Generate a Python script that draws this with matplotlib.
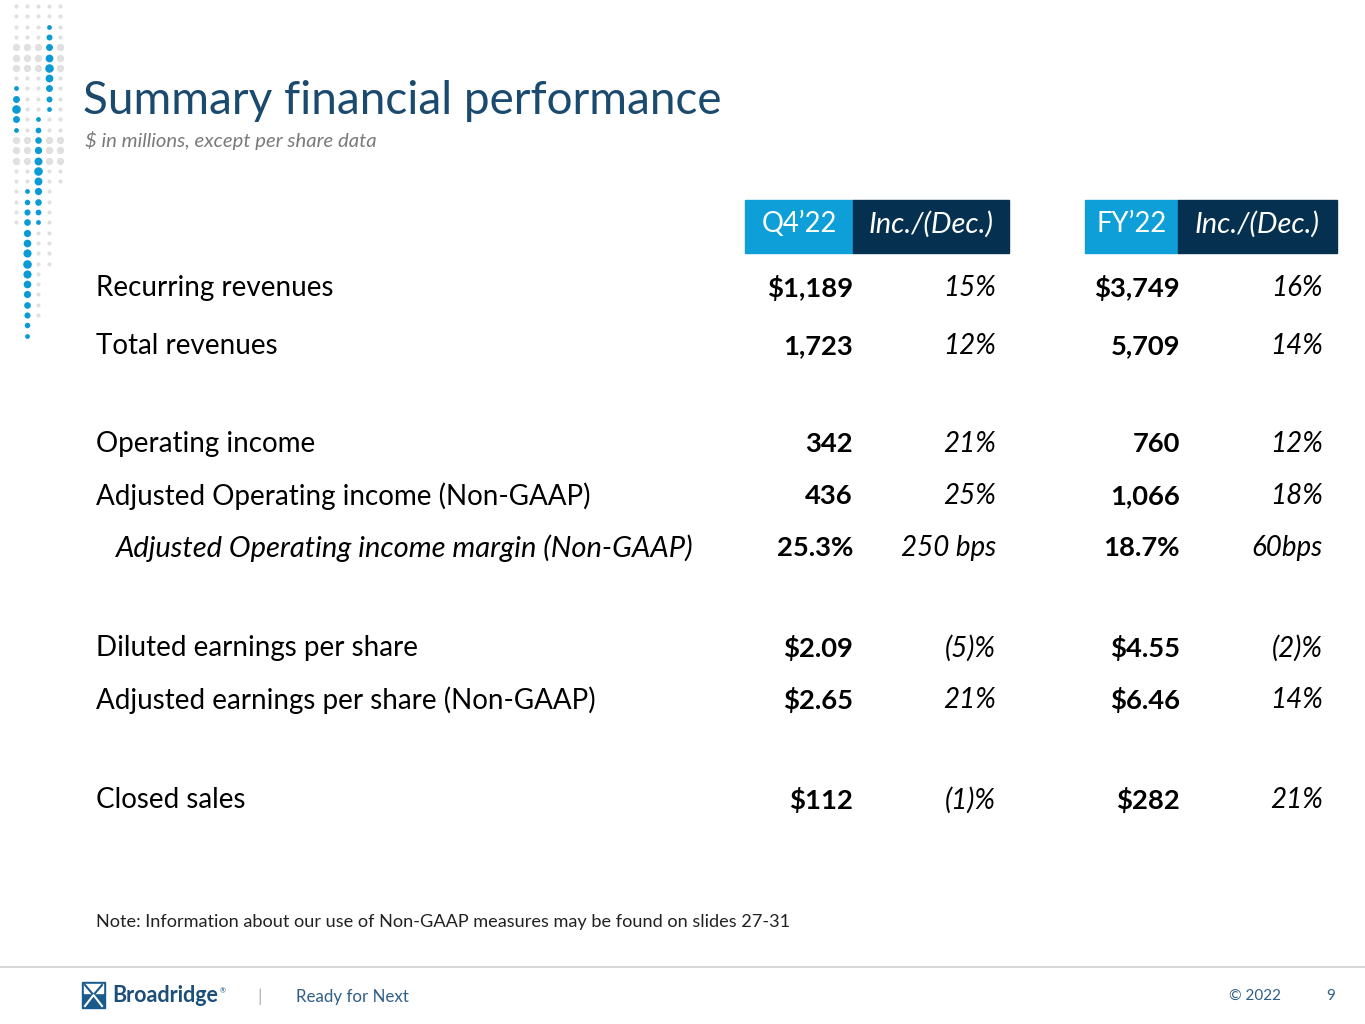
import matplotlib.pyplot as plt
import matplotlib.patches as mpatches
import numpy as np

# table contents
row_labels = ['Recurring revenues', 'Total revenues', 'Operating income',
              'Adjusted Operating income (Non-GAAP)',
              'Adjusted Operating income margin (Non-GAAP)',
              'Diluted earnings per share', 'Adjusted earnings per share (Non-GAAP)',
              'Closed sales']
q4_values = ['$1,189', '1,723', '342', '436', '25.3%', '$2.09', '$2.65', '$112']
q4_change = ['15%', '12%', '21%', '25%', '250 bps', '(5)%', '21%', '(1)%']
fy_values = ['$3,749', '5,709', '760', '1,066', '18.7%', '$4.55', '$6.46', '$282']
fy_change = ['16%', '14%', '12%', '18%', '60bps', '(2)%', '14%', '21%']
headers = ['Q4\u201922', 'Inc./(Dec.)', 'FY\u201922', 'Inc./(Dec.)']

# layout (pixels)
row_y = [288, 346, 444, 496, 548, 648, 700, 800]
sub_row = 4  # indented italic row

FONT = 'Lato'
LIGHT = '#0e9fd8'
NAVY = '#05304f'
TITLE = '#1a4a6e'

fig = plt.figure(figsize=(13.65, 10.24), dpi=100)
ax = fig.add_axes([0, 0, 1, 1])
ax.set_xlim(0, 1365)
ax.set_ylim(1024, 0)
ax.axis('off')

# decorative dot column
dot_cols = [16, 27, 38, 49, 60]
grey_ranges = {16: (0, 21), 27: (0, 17), 38: (0, 30), 49: (0, 25), 60: (0, 17)}
blue_ranges = {16: (8, 12), 27: (18, 32), 38: (11, 21), 49: (2, 10)}
for cx in dot_cols:
    g0, g1 = grey_ranges[cx]
    b = blue_ranges.get(cx)
    for r in range(0, 33):
        y = 6 + r * 10.3
        if b and b[0] <= r <= b[1]:
            mid = (b[0] + b[1]) / 2
            s = 38 - 26 * abs(r - mid) / max(1, (b[1] - b[0]) / 2)
            ax.scatter(cx, y, s=max(s, 10), color='#0a9bd6', linewidths=0, zorder=3)
        elif g0 <= r <= g1:
            big = (4 <= r <= 6 or 13 <= r <= 15) and r > 2
            s = 28 if big else 9
            ax.scatter(cx, y, s=s, color='#e0e0e0', linewidths=0, zorder=2)

# title
ax.text(83, 101, 'Summary financial performance', fontsize=33, color=TITLE,
        family=FONT, va='center', ha='left')
ax.text(85, 141, '$ in millions, except per share data', fontsize=14.6,
        color='#7a7a7a', style='italic', family=FONT, va='center', ha='left')

# header boxes
boxes = [(745, 853, LIGHT), (853, 1009, NAVY), (1085, 1178, LIGHT), (1178, 1337, NAVY)]
for (x0, x1, c), h in zip(boxes, headers):
    ax.add_patch(mpatches.Rectangle((x0, 200), x1 - x0, 53, color=c, zorder=1))
    italic = h.startswith('Inc')
    ax.text((x0 + x1) / 2, 224, h, color='white', fontsize=21 if italic else 19.8,
            style='italic' if italic else 'normal',
            family=FONT, ha='center', va='center')

# table rows
for i, lab in enumerate(row_labels):
    y = row_y[i]
    if i == sub_row:
        ax.text(116, y, lab, fontsize=21, style='italic', family=FONT,
                va='center', ha='left', color='black')
    else:
        ax.text(96, y, lab, fontsize=20, family=FONT, va='center', ha='left',
                color='black')
    ax.text(853, y, q4_values[i], fontsize=19.7, weight='bold', family=FONT,
            va='center', ha='right')
    ax.text(996, y, q4_change[i], fontsize=20, style='italic', family=FONT,
            va='center', ha='right')
    ax.text(1180, y, fy_values[i], fontsize=19.7, weight='bold', family=FONT,
            va='center', ha='right')
    ax.text(1323, y, fy_change[i], fontsize=20, style='italic', family=FONT,
            va='center', ha='right')

ax.text(96, 922, 'Note: Information about our use of Non-GAAP measures may be found on slides 27-31',
        fontsize=13.1, family=FONT, va='center', ha='left', color='#222222')

# footer
ax.plot([0, 1365], [967, 967], color='#d0d0d0', lw=1.2)
ax.add_patch(mpatches.Rectangle((82, 982), 23, 26, color='#1b5a8c', zorder=2))
ax.add_patch(mpatches.Rectangle((84, 984), 19, 9, color='white', zorder=3))
ax.plot([85, 93.5, 102], [985, 995, 985], color='#1b5a8c', lw=1.5, zorder=4)
ax.plot([85, 93.5, 102], [1006, 995, 1006], color='white', lw=1.5, zorder=4)
ax.text(112, 996, 'Broadridge', fontsize=15.5, weight='bold', color='#1b4f7a',
        family=FONT, va='center', ha='left')
ax.text(220, 991, '\u00ae', fontsize=5, color='#1b4f7a', family=FONT, va='center')
ax.text(260, 997, '|', fontsize=13, color='#b0b0b0', family=FONT, va='center', ha='center')
ax.text(296, 997, 'Ready for Next', fontsize=12.2, color='#2f5f87', family=FONT,
        va='center', ha='left')
ax.text(1255, 996, '\u00a9 2022', fontsize=11, color='#2f5f87', family=FONT,
        va='center', ha='center')
ax.text(1331, 996, '9', fontsize=11, color='#2f5f87', family=FONT,
        va='center', ha='center')

fig.savefig('out.png', dpi=100)
